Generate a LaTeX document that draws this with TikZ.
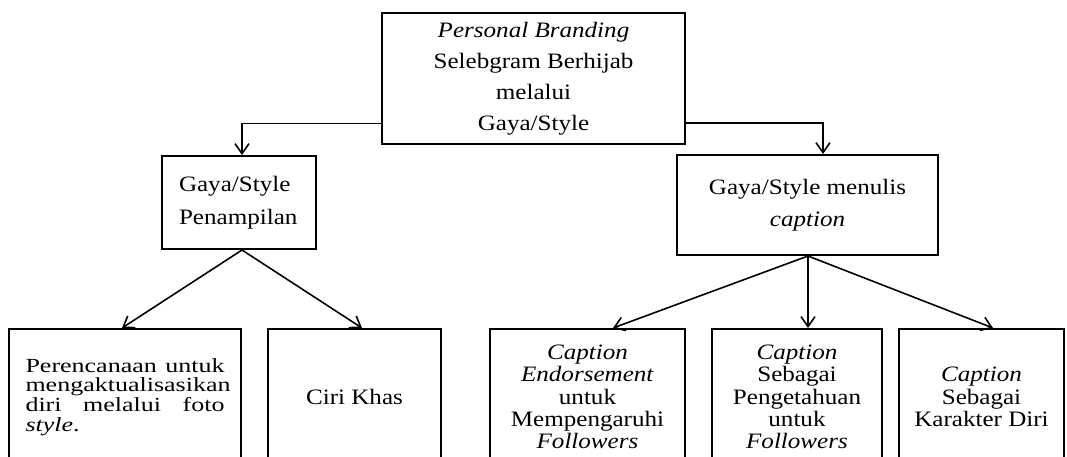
\documentclass[tikz,border=0pt]{standalone}
\usepackage{fontspec}
\setmainfont{Liberation Serif}[FakeStretch=1.14]
\newfontfamily\widefont{Liberation Serif}[FakeStretch=1.3]
\usetikzlibrary{arrows.meta}

\begin{document}
\begin{tikzpicture}[x=0.5pt, y=-0.5pt,
  box/.style={draw, line width=1pt, align=center, inner sep=0pt, font=\fontsize{11}{15.5}\selectfont},
  leaf/.style={draw, line width=1pt, anchor=north, align=center, inner sep=0pt, minimum height=68pt, font={\fontsize{11}{11.1}\selectfont\lineskiplimit=-10pt}},
  link/.style={line width=0.8pt, -{Straight Barb[length=5pt,width=7pt]}}]
  \useasboundingbox (0,0) rectangle (1067,456);
  \clip (0,0) rectangle (1067,456);

  \node[box, minimum width=151.5pt, minimum height=65.5pt] (brand) at (533.5,78.5) {\textit{Personal Branding}\\Selebgram Berhijab\\melalui\\Gaya/Style};
  \node[box, align=left, text width=60pt, inner xsep=8.5pt, minimum height=46.5pt, font=\fontsize{11}{16.5}\selectfont] (tampil) at (239,202.5) {Gaya/Style\\Penampilan};
  \node[box, minimum width=130.5pt, minimum height=50pt, font=\fontsize{11}{16}\selectfont] (tulis) at (807.5,205) {Gaya/Style menulis\\\textit{caption}};

  \node[leaf, align=justify, text width=99.5pt, inner xsep=8.25pt, font={\widefont\fontsize{10}{9.9}\selectfont\lineskiplimit=-10pt}] (rencana) at (125,328) {Perencanaan untuk\linebreak mengaktualisasikan\linebreak diri melalui foto\linebreak \textit{style}.};
  \node[leaf, minimum width=86.5pt] (ciri) at (354.5,328) {Ciri Khas};
  \node[leaf, minimum width=97.5pt] (endorse) at (587.5,328) {\textit{Caption}\\\textit{Endorsement}\\untuk\\Mempengaruhi\\\textit{Followers}};
  \node[leaf, minimum width=85pt] (tahu) at (797,328) {\textit{Caption}\\Sebagai\\Pengetahuan\\untuk\\\textit{Followers}};
  \node[leaf, minimum width=82.5pt] (karakter) at (981.5,328) {\textit{Caption}\\Sebagai\\Karakter Diri};

  \draw[link] ([yshift=10.75pt]brand.south west) -| ([xshift=1.5pt]tampil.north);
  \draw[link] ([yshift=11pt]brand.south east) -| ([xshift=7.75pt]tulis.north);
  \draw[link] ([xshift=1.5pt]tampil.south) -- ([xshift=-1.5pt]rencana.north);
  \draw[link] ([xshift=1.5pt]tampil.south) -- ([xshift=3.75pt]ciri.north);
  \draw[link] ([xshift=0.25pt]tulis.south) -- ([xshift=12.75pt]endorse.north);
  \draw[link] ([xshift=0.25pt]tulis.south) -- ([xshift=5.5pt]tahu.north);
  \draw[link] ([xshift=0.25pt]tulis.south) -- ([xshift=5.75pt]karakter.north);
\end{tikzpicture}
\end{document}
